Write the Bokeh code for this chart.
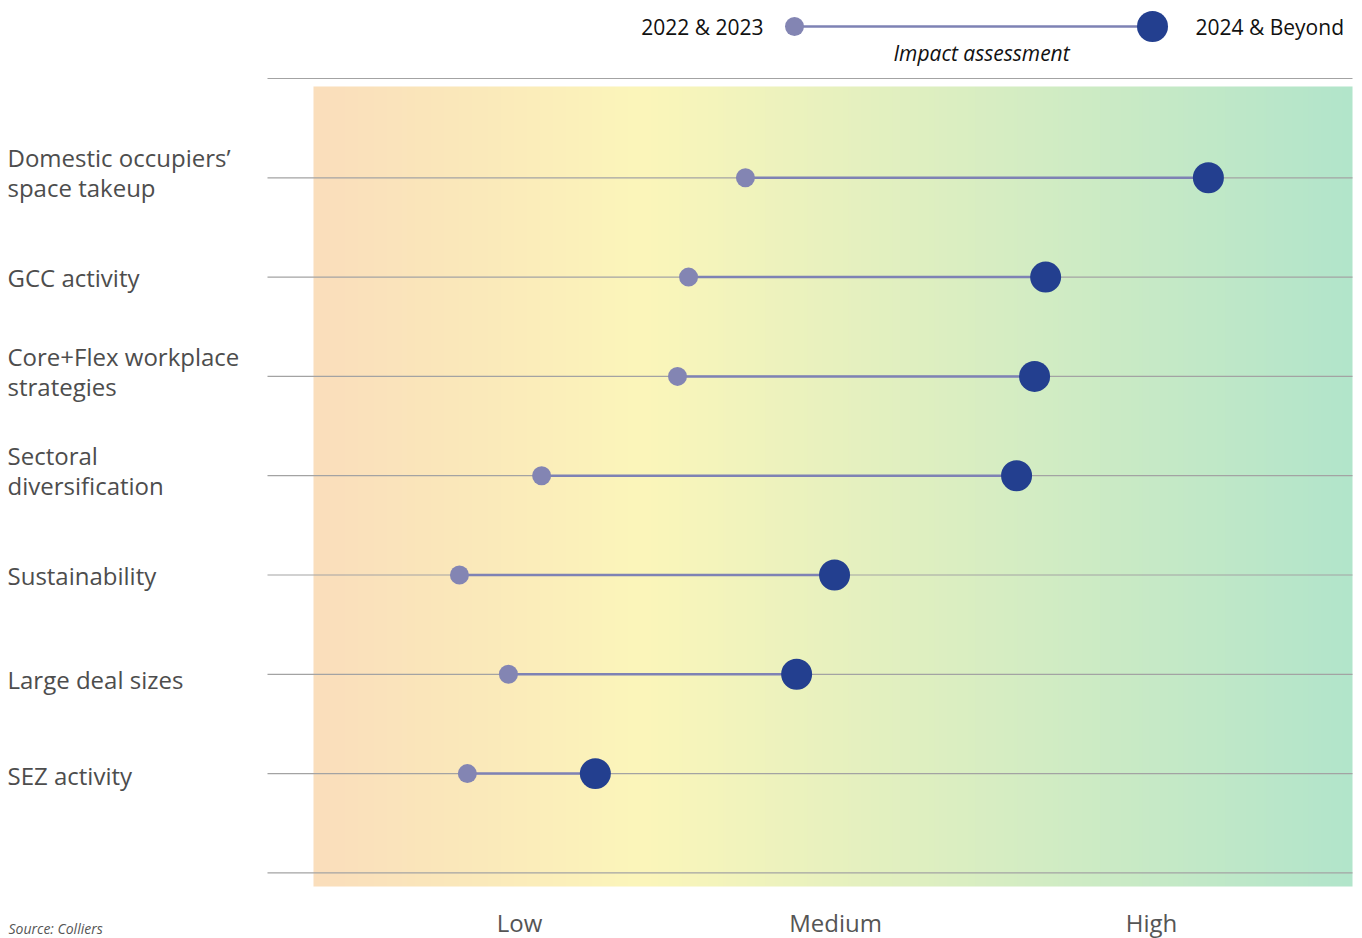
import numpy as np
from bokeh.plotting import figure
from bokeh.models import Range1d, ColumnDataSource
from bokeh.core.properties import value
from bokeh.embed import file_html
from bokeh.resources import INLINE

# ---- data ----
categories = ["Domestic occupiers’\nspace takeup", "GCC activity",
              "Core+Flex workplace\nstrategies", "Sectoral\ndiversification",
              "Sustainability", "Large deal sizes", "SEZ activity"]
impact_2022_2023 = [1.715, 1.535, 1.50, 1.07, 0.81, 0.965, 0.835]
impact_2024_beyond = [3.18, 2.665, 2.63, 2.573, 1.997, 1.877, 1.24]
tick_values = [1, 2, 3]
tick_labels = ["Low", "Medium", "High"]
series_names = ["2022 & 2023", "2024 & Beyond"]

# ---- styles ----
FONT = "Open Sans"
C_SMALL = "#8385B3"
C_BIG = "#233F8F"
C_LINE = "#7E82B4"
C_GRID = "#A3A3A3"
C_TEXT = "#4D4D4D"

W, H = 1362, 938
PX_PER_UNIT = 316.0
X0 = 1 - 519 / PX_PER_UNIT
X1 = X0 + W / PX_PER_UNIT
ROW_PX = 99.3
TOP_PX = 78.0
Y_TOP = -TOP_PX / ROW_PX
Y_BOT = (H - TOP_PX) / ROW_PX


def xp(px):
    return X0 + px / PX_PER_UNIT


def yp(px):
    return (px - TOP_PX) / ROW_PX


p = figure(width=W, height=H, x_range=Range1d(X0, X1), y_range=Range1d(Y_BOT, Y_TOP),
           output_backend="svg", toolbar_location=None, min_border=0)
p.axis.visible = False
p.grid.visible = False
p.outline_line_color = None
p.background_fill_color = "white"
p.border_fill_color = "white"

# gradient background
n = 400
stops_px = np.array([313, 500, 640, 1352], dtype=float)
stops_rgb = np.array([[250, 222, 188], [251, 235, 186], [252, 246, 186], [178, 229, 203]], dtype=float)
xs_px = np.linspace(313, 1352, n)
img = np.zeros((1, n), dtype=np.uint32)
view = img.view(dtype=np.uint8).reshape((1, n, 4))
for c in range(3):
    view[0, :, c] = np.interp(xs_px, stops_px, stops_rgb[:, c]).astype(np.uint8)
view[0, :, 3] = 255
p.image_rgba(image=[img], x=xp(313), y=yp(86), dw=(1352 - 313) / PX_PER_UNIT, dh=(886 - 86) / ROW_PX)

# horizontal lines
rows = list(range(1, len(categories) + 1))
grid_ys = [0] + rows + [len(categories) + 1]
p.segment(x0=xp(267), x1=xp(1352), y0=grid_ys, y1=grid_ys, line_color=C_GRID, line_width=1.2)

# dumbbells
src = ColumnDataSource(dict(y=rows, a=impact_2022_2023, b=impact_2024_beyond, lab=categories))
p.segment(x0="a", x1="b", y0="y", y1="y", source=src, line_color=C_LINE, line_width=2.5)
p.scatter(x="a", y="y", source=src, size=19, fill_color=C_SMALL, line_color=None)
p.scatter(x="b", y="y", source=src, size=31, fill_color=C_BIG, line_color=None)

# category labels
label_offsets = [-0.05, 0, -0.05, -0.05, 0, 0.05, 0.02]
p.text(x=xp(7), y=[r + o for r, o in zip(rows, label_offsets)], text=categories,
       text_font=value(FONT), text_font_size="24px", text_color=C_TEXT,
       text_baseline="middle", text_align="left", text_line_height=0.9)

# bottom tick labels
p.text(x=tick_values, y=[yp(922)] * len(tick_values), text=tick_labels,
       text_font=value(FONT), text_font_size="24px", text_color="#555555",
       text_baseline="middle", text_align="center")

# legend
ly = yp(26)
lx_a, lx_b = xp(794), xp(1152)
p.segment(x0=[lx_a], x1=[lx_b], y0=[ly], y1=[ly], line_color=C_LINE, line_width=2.5)
p.scatter(x=[lx_a], y=[ly], size=19, fill_color=C_SMALL, line_color=None)
p.scatter(x=[lx_b], y=[ly], size=31, fill_color=C_BIG, line_color=None)
p.text(x=[xp(763)], y=[ly], text=[series_names[0]], text_font=value(FONT), text_font_size="21px",
       text_color="#111111", text_baseline="middle", text_align="right")
p.text(x=[xp(1195)], y=[ly], text=[series_names[1]], text_font=value(FONT), text_font_size="21px",
       text_color="#111111", text_baseline="middle", text_align="left")
p.text(x=[xp(981)], y=[yp(52)], text=["Impact assessment"], text_font=value(FONT),
       text_font_size="21px", text_font_style="italic", text_color="#111111",
       text_baseline="middle", text_align="center")

# source
p.text(x=[xp(8)], y=[yp(918)], text=["Source: Colliers"], text_font=value(FONT),
       text_font_size="14px", text_font_style="italic", text_color="#555555",
       text_baseline="top", text_align="left")

open("out.html", "w").write(file_html(p, INLINE))
